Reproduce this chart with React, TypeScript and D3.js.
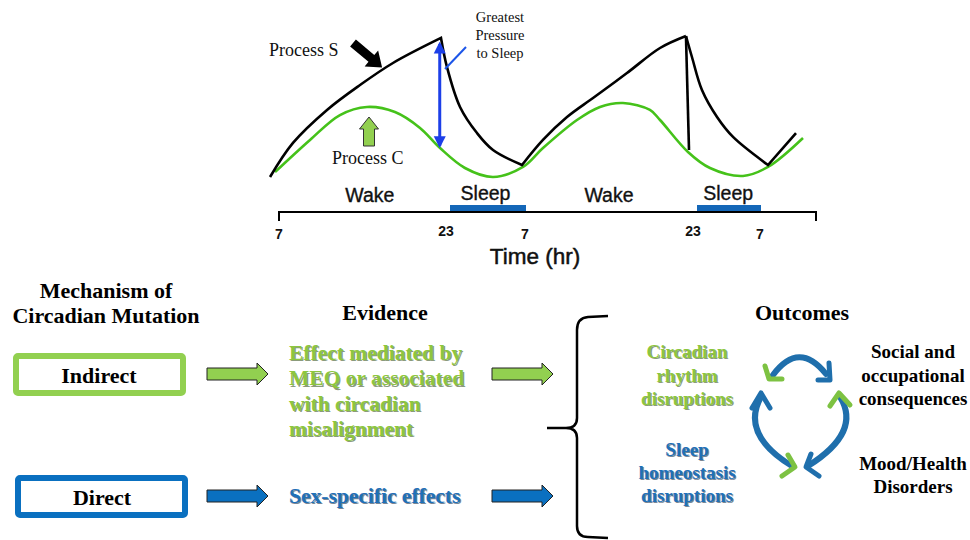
import React from "react";
import * as d3 from "d3";

// ---------- Data (top panel: two-process model) ----------
const tickHours = [7, 23, 31, 47, 55];
const tickLabels = ["7", "23", "7", "23", "7"];
const sleepPeriods: [number, number][] = [
  [23, 31],
  [47, 55],
];
const phaseLabels = ["Wake", "Sleep", "Wake", "Sleep"];
const phaseHours = [15.7, 27, 39, 51.2];

// Process S segments: [hour, level]
const sRise1: [number, number][] = [
  [6.14, 2], [8.34, 24.7], [11.6, 46.7], [14.76, 63.3], [17.92, 78], [22.52, 94.7],
];
const sDecay1: [number, number][] = [
  [22.52, 94.7], [23.1, 75.3], [24.42, 48.7], [26.14, 31.3], [27.76, 20], [30.7, 10],
];
const sRise2: [number, number][] = [
  [30.7, 10], [32.71, 26.7], [35, 42], [37.48, 54.7], [40.71, 71.3], [43.86, 88], [46.33, 96],
];
const sDrop: [number, number][] = [
  [46.33, 96], [46.62, 20],
];
const sDecay2: [number, number][] = [
  [46.33, 96], [46.9, 82], [48.07, 60], [49.87, 42], [51.78, 28.7], [56, 10],
];
const sRise3: [number, number][] = [
  [56, 10], [59.5, 31.3],
];

// Process C: [hour, level]
const cWave: [number, number][] = [
  [6.62, 5.3], [9.97, 26.7], [12.84, 43.3], [15.43, 48.7], [18.11, 45.3], [20.51, 34.7],
  [22.43, 21.3], [24.92, 8], [27.76, 2], [30.8, 8.7], [32.71, 21.3], [35.95, 40],
  [38.14, 48.7], [40.33, 51.3], [42.9, 46.7], [43.86, 40], [46.52, 18.7], [49.03, 8],
  [52.97, 2.7], [56, 8.7], [60.375, 28],
];

const pressureHour = 22.4;
const pressureTop = 92;
const pressureBottom = 21.5;

// ---------- Data (bottom panel) ----------
const headingMechanism = ["Mechanism of", "Circadian Mutation"];
const headingEvidence = "Evidence";
const headingOutcomes = "Outcomes";
const mechanisms = ["Indirect", "Direct"];
const evidenceIndirect = ["Effect mediated by", "MEQ or associated", "with circadian", "misalignment"];
const evidenceDirect = ["Sex-specific effects"];
const outcomeCircadian = ["Circadian", "rhythm", "disruptions"];
const outcomeSleep = ["Sleep", "homeostasis", "disruptions"];
const outcomeSocial = ["Social and", "occupational", "consequences"];
const outcomeMood = ["Mood/Health", "Disorders"];

const GREEN = "#92D050";
const GREEN_TEXT = "#8DC63F";
const BLUE = "#0A70C0";
const BLUE_TEXT = "#1F70B8";
const CYCLE_BLUE = "#1F6FAC";
const CYCLE_GREEN = "#7DC242";
const CURVE_GREEN = "#45C21A";
const SERIF = "'Liberation Serif', 'Times New Roman', serif";
const SANS = "'Liberation Sans', Arial, sans-serif";

const x = d3.scaleLinear().domain([7, 23, 31, 47, 55, 62]).range([279, 446, 525, 693, 760, 816]);
const y = d3.scaleLinear().domain([0, 100]).range([180, 30]);

const lineSmooth = d3
  .line<[number, number]>()
  .x((d) => x(d[0]))
  .y((d) => y(d[1]))
  .curve(d3.curveCatmullRom.alpha(0.5));

function joinSegments(segs: [number, number][][]) {
  return segs
    .map((s, i) => {
      const p = lineSmooth(s) || "";
      return i === 0 ? p : p.replace(/^M/, "L");
    })
    .join("");
}

function blockArrow(x0: number, cy: number, len: number, shaftH: number, headH: number, headLen: number) {
  const xs = x0 + len - headLen;
  const pts = [
    [x0, cy - shaftH / 2],
    [xs, cy - shaftH / 2],
    [xs, cy - headH / 2],
    [x0 + len, cy],
    [xs, cy + headH / 2],
    [xs, cy + shaftH / 2],
    [x0, cy + shaftH / 2],
  ];
  return "M" + pts.map((p) => p.join(",")).join("L") + "Z";
}

function ShadowText({
  lines, x0, y0, dy, fill, shadow, size, anchor = "start",
}: {
  lines: string[]; x0: number; y0: number; dy: number; fill: string; shadow: string; size: number; anchor?: string;
}) {
  return (
    <g fontFamily={SERIF} fontWeight="bold" fontSize={size} textAnchor={anchor}>
      {lines.map((l, i) => (
        <g key={i}>
          <text x={x0 + 1.2} y={y0 + i * dy + 1.2} fill={shadow} opacity={0.55}>{l}</text>
          <text x={x0} y={y0 + i * dy} fill={fill}>{l}</text>
        </g>
      ))}
    </g>
  );
}

export default function App() {
  const sPath = joinSegments([sRise1, sDecay1, sRise2]);
  const sPath2 = joinSegments([sDecay2, sRise3]);
  const dropPath = d3.line<[number, number]>().x((d) => x(d[0])).y((d) => y(d[1]))(sDrop) || "";
  const cPath = lineSmooth(cWave) || "";
  const px = x(pressureHour);

  return (
    <svg width={970} height={540} style={{ position: "absolute", left: 0, top: 0, background: "#fff" }}>
      <defs>
        <marker id="bh" viewBox="0 0 10 10" refX="8" refY="5" markerWidth="4" markerHeight="4.5" orient="auto-start-reverse">
          <path d="M0,0 L10,5 L0,10 Z" fill="#1C3FE8" />
        </marker>
      </defs>

      {/* ---------- Top panel ---------- */}
      <path d={cPath} fill="none" stroke={CURVE_GREEN} strokeWidth={2.6} />
      <path d={sPath} fill="none" stroke="#000" strokeWidth={2.6} strokeLinejoin="miter" />
      <path d={sPath2} fill="none" stroke="#000" strokeWidth={2.6} />
      <path d={dropPath} fill="none" stroke="#000" strokeWidth={2.6} />

      <line x1={px} x2={px} y1={y(pressureTop) + 2} y2={y(pressureBottom) - 2} stroke="#1C3FE8" strokeWidth={3}
        markerStart="url(#bh)" markerEnd="url(#bh)" />
      <line x1={466} y1={47} x2={445} y2={69} stroke="#1C55E8" strokeWidth={2} />
      <g fontFamily={SERIF} fontSize={14.5} fill="#111" textAnchor="middle">
        <text x={500} y={22}>Greatest</text>
        <text x={500} y={40}>Pressure</text>
        <text x={500} y={58}>to Sleep</text>
      </g>

      <text x={269} y={56} fontFamily={SERIF} fontSize={18} fill="#111">Process S</text>
      <path d={blockArrow(0, 0, 38, 9, 21, 14)} fill="#000" transform="translate(353,43) rotate(40)" />

      <path d={blockArrow(0, 0, 29, 11, 19, 12)} fill={GREEN} stroke="#333" strokeWidth={1}
        transform="translate(369,146) rotate(-90)" />
      <text x={332} y={164} fontFamily={SERIF} fontSize={18} fill="#111">Process C</text>

      <g fontFamily={SANS} fontSize={19.5} fill="#111" textAnchor="middle" stroke="#111" strokeWidth={0.35}>
        {phaseLabels.map((l, i) => (
          <text key={i} x={x(phaseHours[i])} y={i % 2 ? 200 : 202}>{l}</text>
        ))}
      </g>
      {sleepPeriods.map((p, i) => (
        <rect key={i} x={x(p[0]) + 4} y={205} width={x(p[1]) - x(p[0]) - 3} height={7} fill="#1467B8" />
      ))}
      <line x1={x(7)} x2={816} y1={212} y2={212} stroke="#000" strokeWidth={2} />
      <line x1={x(7)} x2={x(7)} y1={211} y2={221} stroke="#000" strokeWidth={2} />
      <line x1={816} x2={816} y1={211} y2={221} stroke="#000" strokeWidth={2} />
      <g fontFamily={SANS} fontSize={14} fontWeight="bold" fill="#111" textAnchor="middle">
        {tickHours.map((h, i) => (
          <text key={i} x={x(h)} y={tickLabels[i] === "7" ? 239 : 236}>{tickLabels[i]}</text>
        ))}
      </g>
      <text x={535} y={264} fontFamily={SANS} fontSize={22.5} fill="#111" textAnchor="middle" stroke="#111" strokeWidth={0.5}>Time (hr)</text>

      {/* ---------- Bottom panel ---------- */}
      <g fontFamily={SERIF} fontWeight="bold" fontSize={22} fill="#000" textAnchor="middle">
        <text x={106} y={298}>{headingMechanism[0]}</text>
        <text x={106} y={323}>{headingMechanism[1]}</text>
        <text x={385} y={320}>{headingEvidence}</text>
        <text x={802} y={320}>{headingOutcomes}</text>
      </g>

      <rect x={16} y={356} width={167} height={37} rx={2} fill="#fff" stroke={GREEN} strokeWidth={6} />
      <rect x={18} y={478} width={167} height={37} rx={2} fill="#fff" stroke={BLUE} strokeWidth={6} />
      <g fontFamily={SERIF} fontWeight="bold" fontSize={22} fill="#000" textAnchor="middle">
        <text x={99} y={383}>{mechanisms[0]}</text>
        <text x={102} y={505}>{mechanisms[1]}</text>
      </g>

      <path d={blockArrow(207, 374, 61, 12, 22, 11)} fill={GREEN} stroke="#222" strokeWidth={1} />
      <path d={blockArrow(207, 496, 61, 12, 22, 11)} fill={BLUE} stroke="#222" strokeWidth={1} />
      <path d={blockArrow(492, 374, 61, 12, 22, 11)} fill={GREEN} stroke="#222" strokeWidth={1} />
      <path d={blockArrow(492, 496, 61, 12, 22, 11)} fill={BLUE} stroke="#222" strokeWidth={1} />

      <ShadowText lines={evidenceIndirect} x0={289} y0={360} dy={25.3} fill={GREEN_TEXT} shadow="#2d4a10" size={21.5} />
      <ShadowText lines={evidenceDirect} x0={289} y0={503} dy={25} fill={BLUE_TEXT} shadow="#0a2540" size={21.5} />

      <path d="M608,316 L588,317 Q577,318 577,330 L577,418 Q577,428 566,428 L547,428 L566,428 Q577,428 577,438 L577,526 Q577,537 588,537 L608,538"
        fill="none" stroke="#000" strokeWidth={2.5} />

      <ShadowText lines={outcomeCircadian} x0={687} y0={358} dy={23.5} fill={GREEN_TEXT} shadow="#2d4a10" size={19} anchor="middle" />
      <ShadowText lines={outcomeSleep} x0={687} y0={456} dy={23} fill={BLUE_TEXT} shadow="#0a2540" size={19} anchor="middle" />
      <g fontFamily={SERIF} fontWeight="bold" fontSize={19} fill="#000" textAnchor="middle">
        {outcomeSocial.map((l, i) => (
          <text key={i} x={913} y={358 + i * 23.5}>{l}</text>
        ))}
        {outcomeMood.map((l, i) => (
          <text key={i} x={913} y={470 + i * 22.5}>{l}</text>
        ))}
      </g>

      <g fill="none" strokeLinecap="round" strokeLinejoin="round">
        <path d="M773,375 Q799,340 826,374" stroke={CYCLE_BLUE} strokeWidth={6} />
        <path d="M761,397 Q740,434 792,466" stroke={CYCLE_BLUE} strokeWidth={6} />
        <path d="M840,397 Q862,432 808,466" stroke={CYCLE_BLUE} strokeWidth={6} />
        <polyline points="765,366 769,379 782,379" stroke={CYCLE_GREEN} strokeWidth={5} />
        <polyline points="829,363 830,380 818,380" stroke={CYCLE_BLUE} strokeWidth={5} />
        <polyline points="752,408 761,393 770,408" stroke={CYCLE_BLUE} strokeWidth={5} />
        <polyline points="830,406 839,393 850,405" stroke={CYCLE_GREEN} strokeWidth={5} />
        <polyline points="788,455 795,467 782,476" stroke={CYCLE_GREEN} strokeWidth={5} />
        <polyline points="811,454 806,467 819,476" stroke={CYCLE_BLUE} strokeWidth={5} />
      </g>
    </svg>
  );
}
